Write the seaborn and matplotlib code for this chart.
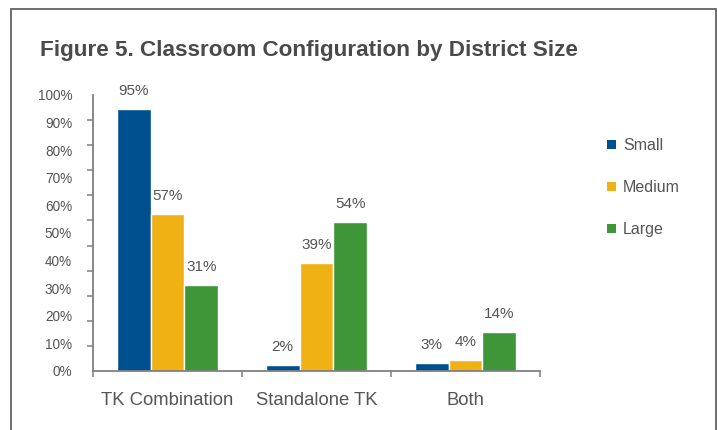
import matplotlib
matplotlib.use('Agg')
import matplotlib.pyplot as plt
import pandas as pd
import numpy as np
import seaborn as sns
from matplotlib.lines import Line2D
from matplotlib.patches import Patch

# Dados
categorias = ['TK Combination', 'Standalone TK', 'Both']
tamanhos = ['Small', 'Medium', 'Large']
small = [95, 2, 3]
medium = [57, 39, 4]
large = [31, 54, 14]
cores = ['#00508F', '#F0B114', '#3E9639']
yticks = list(range(0, 101, 10))

df = pd.DataFrame({
    'config': categorias * 3,
    'size': ['Small'] * 3 + ['Medium'] * 3 + ['Large'] * 3,
    'pct': small + medium + large,
})

sns.set_style('white')
plt.rcParams['font.family'] = ['Liberation Sans', 'DejaVu Sans']
cinza = '#555555'

W, H = 717, 430
fig = plt.figure(figsize=(W / 100, H / 100), dpi=100)
ax = fig.add_axes([93 / W, 1 - 371 / H, (540 - 93) / W, (371 - 95) / H])

sns.barplot(data=df, x='config', y='pct', hue='size', hue_order=tamanhos,
            palette=cores, width=0.68, saturation=1, edgecolor='white',
            linewidth=1, ax=ax, legend=False)

for cont in ax.containers:
    ax.bar_label(cont, fmt='{:.0f}%', padding=8, fontsize=11, color=cinza)

ax.set_ylim(0, 100)
ax.set_xlim(-0.5, 2.5)
ax.set_yticks(yticks)
ax.set_yticklabels([f'{v}%' for v in yticks])
ax.set_yticks(np.linspace(0, 100, 12), minor=True)
ax.set_xticks([-0.5, 0.5, 1.5, 2.5], minor=True)
ax.tick_params(axis='y', which='major', length=0, pad=15, labelsize=9.8, labelcolor=cinza)
ax.tick_params(axis='x', which='major', length=0, pad=15, labelsize=13.3, labelcolor=cinza)
ax.tick_params(which='minor', length=4.5, width=1.1, color='#808080', direction='out',
               left=True, bottom=True)
ax.set_xlabel('')
ax.set_ylabel('')
for lado in ['top', 'right']:
    ax.spines[lado].set_visible(False)
for lado in ['left', 'bottom']:
    ax.spines[lado].set_color('#808080')
    ax.spines[lado].set_linewidth(1.3)

handles = [Patch(facecolor=c, edgecolor='none') for c in cores]
fig.legend(handles, tamanhos, loc='upper left', bbox_to_anchor=(607 / W, 1 - 138 / H),
           frameon=False, fontsize=11.5, labelcolor=cinza, handlelength=0.55,
           handleheight=0.55, handletextpad=0.45, labelspacing=1.7,
           borderpad=0, borderaxespad=0)

fig.text(40 / W, 1 - 56 / H, 'Figure 5. Classroom Configuration by District Size',
         ha='left', va='baseline', fontsize=16.2, fontweight='bold', color='#4a4a4a')

# moldura
moldura = dict(transform=fig.transFigure, color='#6e6e6e', lw=1.4)
fig.add_artist(Line2D([11 / W, 11 / W], [0, 1 - 9 / H], **moldura))
fig.add_artist(Line2D([11 / W, 715.5 / W], [1 - 9 / H, 1 - 9 / H], **moldura))
fig.add_artist(Line2D([715.5 / W, 715.5 / W], [0, 1 - 9 / H], **moldura))

plt.savefig('out.png', dpi=100)
plt.close()
